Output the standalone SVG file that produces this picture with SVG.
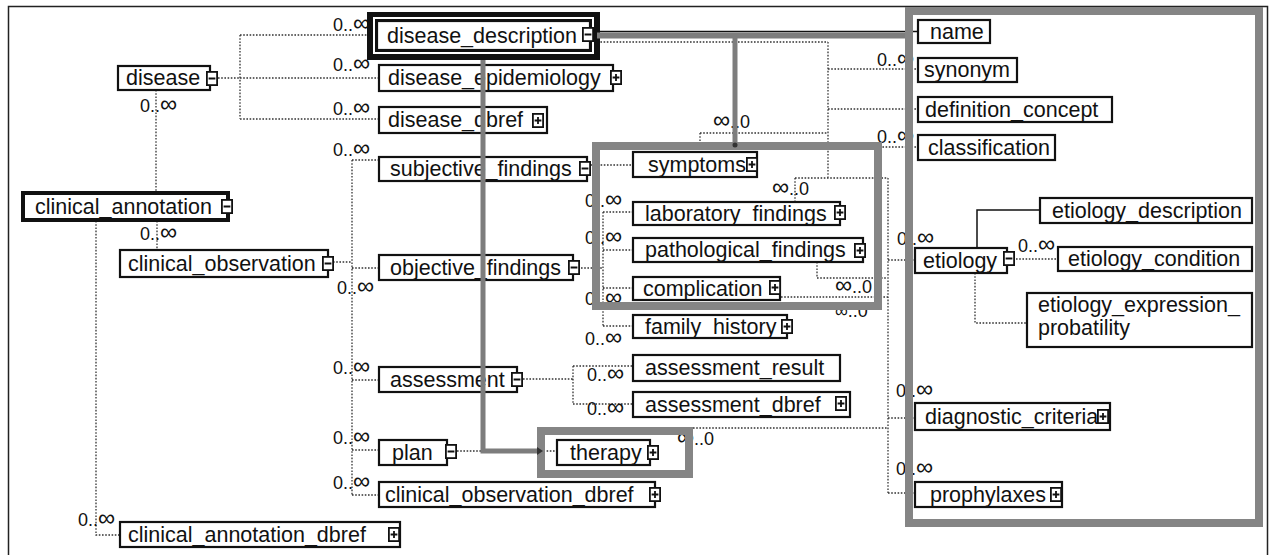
<svg xmlns="http://www.w3.org/2000/svg" xmlns:xlink="http://www.w3.org/1999/xlink" width="1274" height="555" viewBox="0 0 1274 555">
<style>
.box{fill:#fff;stroke:#111;stroke-width:2.2}
.t{font-family:"Liberation Sans",Arial,sans-serif;font-size:21.5px;fill:#111}
.lbl{font-family:"Liberation Sans",Arial,sans-serif;font-size:18px;fill:#111}
.inf{font-size:24px}
.dot{fill:none;stroke:#333;stroke-width:1.3;stroke-dasharray:1.6 1.6}
.solid{fill:none;stroke:#111;stroke-width:1.5}
.gray{fill:none;stroke:#7d7d7d;stroke-width:5}
.frame{fill:none;stroke:#858585;stroke-width:8}
</style>
<defs>
<g id="mi"><rect x="0.9" y="0.9" width="10.2" height="13.2" fill="#fff" stroke="#111" stroke-width="1.8"/><path d="M2.6,7.5H9.4" stroke="#111" stroke-width="2"/></g>
<g id="pl"><rect x="0.9" y="0.9" width="10.2" height="13.2" fill="#fff" stroke="#111" stroke-width="1.8"/><path d="M2.6,7.5H9.4M6,4V11" stroke="#111" stroke-width="1.8"/></g>
</defs>
<rect x="0" y="0" width="1274" height="555" fill="#fff"/>
<rect x="8.5" y="6.5" width="1259" height="560" fill="none" stroke="#222" stroke-width="1.5"/>

<g id="connectors">
<path class="dot" d="M218,78H240M240,35V119M240,35H367M240,78H379M240,119H379"/>
<path class="dot" d="M156,90V193M157,221V250M96,221V535H120"/>
<path class="dot" d="M333,262H352M352,160V495M352,160H379M352,268H379M352,380H379M352,450H379M352,495H379"/>
<path class="dot" d="M591,165H633"/>
<path class="dot" d="M581,268H603M603,212V327M603,212H633M603,250H633M603,288H633M603,326H633"/>
<path class="dot" d="M523,379H573M573,366V404M573,366H633M573,404H633"/>
<path class="dot" d="M457,451H557"/>
<path class="dot" d="M594,42H828M828,42V178M828,69H918M828,109H918M828,147H918M700,133H828M700,133V143M795,178H888M795,178V202M888,178V493M888,260H915M888,418H915M888,493H915M693,428H888M817,262V278H888M781,297H888"/>
<path class="solid" d="M977,248V210H1040"/>
<path class="dot" d="M1016,259H1058M975,273V323H1027"/>
<path class="solid" d="M597,31.5H918"/>
</g>

<g id="labels">
<text class="lbl" x="333" y="31">0..<tspan class="inf">∞</tspan></text>
<text class="lbl" x="333" y="71">0..<tspan class="inf">∞</tspan></text>
<text class="lbl" x="333" y="115">0..<tspan class="inf">∞</tspan></text>
<text class="lbl" x="140" y="112">0..<tspan class="inf">∞</tspan></text>
<text class="lbl" x="333" y="156">0..<tspan class="inf">∞</tspan></text>
<text class="lbl" x="140" y="240">0..<tspan class="inf">∞</tspan></text>
<text class="lbl" x="337" y="294">0..<tspan class="inf">∞</tspan></text>
<text class="lbl" x="333" y="374">0..<tspan class="inf">∞</tspan></text>
<text class="lbl" x="333" y="444">0..<tspan class="inf">∞</tspan></text>
<text class="lbl" x="333" y="489">0..<tspan class="inf">∞</tspan></text>
<text class="lbl" x="78" y="526">0..<tspan class="inf">∞</tspan></text>
<text class="lbl" x="587" y="381">0..<tspan class="inf">∞</tspan></text>
<text class="lbl" x="587" y="415">0..<tspan class="inf">∞</tspan></text>
<text class="lbl" x="585" y="207">0..<tspan class="inf">∞</tspan></text>
<text class="lbl" x="585" y="244">0..<tspan class="inf">∞</tspan></text>
<text class="lbl" x="585" y="305">0..<tspan class="inf">∞</tspan></text>
<text class="lbl" x="585" y="345">0..<tspan class="inf">∞</tspan></text>
<text class="lbl" x="877" y="66">0..<tspan class="inf">∞</tspan></text>
<text class="lbl" x="877" y="143">0..<tspan class="inf">∞</tspan></text>
<text class="lbl" x="897" y="245">0..<tspan class="inf">∞</tspan></text>
<text class="lbl" x="1018" y="252">0..<tspan class="inf">∞</tspan></text>
<text class="lbl" x="896" y="397">0..<tspan class="inf">∞</tspan></text>
<text class="lbl" x="896" y="475">0..<tspan class="inf">∞</tspan></text>
<text class="lbl" x="713" y="128"><tspan class="inf">∞</tspan>..0</text>
<text class="lbl" x="772" y="195"><tspan class="inf">∞</tspan>..0</text>
<text class="lbl" x="835" y="293"><tspan class="inf">∞</tspan>..0</text>
<text class="lbl" x="835" y="317">∞..0</text>
<text class="lbl" x="677" y="445"><tspan class="inf">∞</tspan>..0</text>
</g>

<g id="frames">
<rect class="frame" x="596" y="146" width="282" height="160"/>
<rect class="frame" x="909" y="11" width="350" height="512"/>
<rect class="frame" x="541" y="431" width="148" height="43"/>
</g>

<g id="disease"><rect class="box" x="118" y="66" width="92" height="24"/><text class="t" x="126" y="85">disease</text><use href="#mi" x="206" y="71"/></g>
<g id="clinical_annotation"><rect class="box" x="23" y="193" width="205" height="27" style="stroke-width:4"/><text class="t" x="35" y="214">clinical_annotation</text><use href="#mi" x="221" y="199"/></g>
<g id="clinical_observation"><rect class="box" x="120" y="250" width="208" height="27"/><text class="t" x="128" y="271">clinical_observation</text><use href="#mi" x="322" y="256"/></g>
<g id="clinical_annotation_dbref"><rect class="box" x="120" y="522" width="280" height="25"/><text class="t" x="128" y="542">clinical_annotation_dbref</text><use href="#pl" x="388" y="527"/></g>
<g id="disease_description"><rect x="367" y="12" width="233" height="48" fill="#111"/><rect x="374" y="18" width="219" height="35" fill="none" stroke="#fff" stroke-width="2"/><rect class="box" x="377" y="21" width="213" height="29"/><text class="t" x="387" y="43">disease_description</text><use href="#mi" x="582" y="27"/></g>
<g id="disease_epidemiology"><rect class="box" x="379" y="65" width="234" height="26"/><text class="t" x="388" y="85">disease_epidemiology</text><use href="#pl" x="610" y="70"/></g>
<g id="disease_dbref"><rect class="box" x="379" y="107" width="168" height="26"/><text class="t" x="388" y="127">disease_dbref</text><use href="#pl" x="532" y="113"/></g>
<g id="subjective_findings"><rect class="box" x="379" y="157" width="208" height="24"/><text class="t" x="390" y="176">subjective_findings</text><use href="#mi" x="579" y="161"/></g>
<g id="objective_findings"><rect class="box" x="379" y="255" width="194" height="25"/><text class="t" x="390" y="275">objective_findings</text><use href="#mi" x="568" y="260"/></g>
<g id="assessment"><rect class="box" x="379" y="367" width="138" height="25"/><text class="t" x="390" y="387">assessment</text><use href="#mi" x="511" y="372"/></g>
<g id="plan"><rect class="box" x="379" y="440" width="68" height="25"/><text class="t" x="392" y="460">plan</text><use href="#mi" x="445" y="444"/></g>
<g id="clinical_observation_dbref"><rect class="box" x="379" y="482" width="276" height="25"/><text class="t" x="385" y="502">clinical_observation_dbref</text><use href="#pl" x="649" y="487"/></g>
<g id="symptoms"><rect class="box" x="633" y="152" width="124" height="25"/><text class="t" x="648" y="172">symptoms</text><use href="#pl" x="746" y="157"/></g>
<g id="laboratory_findings"><rect class="box" x="633" y="202" width="207" height="23"/><text class="t" x="645" y="221">laboratory_findings</text><use href="#pl" x="834" y="205"/></g>
<g id="pathological_findings"><rect class="box" x="633" y="238" width="230" height="24"/><text class="t" x="645" y="257">pathological_findings</text><use href="#pl" x="854" y="243"/></g>
<g id="complication"><rect class="box" x="633" y="277" width="147" height="23"/><text class="t" x="643" y="296">complication</text><use href="#pl" x="769" y="280"/></g>
<g id="family_history"><rect class="box" x="633" y="315" width="154" height="23"/><text class="t" x="645" y="334">family_history</text><use href="#pl" x="781" y="319"/></g>
<g id="assessment_result"><rect class="box" x="633" y="355" width="207" height="26"/><text class="t" x="645" y="375">assessment_result</text></g>
<g id="assessment_dbref"><rect class="box" x="633" y="392" width="217" height="25"/><text class="t" x="645" y="412">assessment_dbref</text><use href="#pl" x="835" y="396"/></g>
<g id="therapy"><rect class="box" x="557" y="440" width="93" height="25"/><text class="t" x="570" y="460">therapy</text><use href="#pl" x="647" y="445"/></g>
<g id="name"><rect class="box" x="918" y="20" width="72" height="23"/><text class="t" x="930" y="39">name</text></g>
<g id="synonym"><rect class="box" x="918" y="58" width="99" height="24"/><text class="t" x="924" y="77">synonym</text></g>
<g id="definition_concept"><rect class="box" x="918" y="97" width="194" height="25"/><text class="t" x="925" y="117">definition_concept</text></g>
<g id="classification"><rect class="box" x="918" y="135" width="137" height="25"/><text class="t" x="928" y="155">classification</text></g>
<g id="etiology"><rect class="box" x="915" y="248" width="92" height="25"/><text class="t" x="923" y="268">etiology</text><use href="#mi" x="1003" y="251"/></g>
<g id="etiology_description"><rect class="box" x="1040" y="198" width="212" height="25"/><text class="t" x="1052" y="218">etiology_description</text></g>
<g id="etiology_condition"><rect class="box" x="1058" y="247" width="194" height="24"/><text class="t" x="1068" y="266">etiology_condition</text></g>
<g id="etiology_expression_probatility"><rect class="box" x="1027" y="293" width="225" height="54"/><text class="t" x="1038" y="312">etiology_expression_</text><text class="t" x="1038" y="335">probatility</text></g>
<g id="diagnostic_criteria"><rect class="box" x="915" y="403" width="195" height="27"/><text class="t" x="925" y="424">diagnostic_criteria</text><use href="#pl" x="1097" y="409"/></g>
<g id="prophylaxes"><rect class="box" x="915" y="482" width="147" height="25"/><text class="t" x="930" y="502">prophylaxes</text><use href="#pl" x="1050" y="487"/></g>

<g id="highlight-connectors">
<path class="gray" d="M597,35.5H905" style="stroke-width:6"/>
<path class="gray" d="M735,38V144"/>
<circle cx="735" cy="145" r="2.5" fill="#333"/>
<path class="gray" d="M483,60V451H539"/>
<path d="M537,447L543,451L537,455Z" fill="#333"/>
</g>
</svg>
